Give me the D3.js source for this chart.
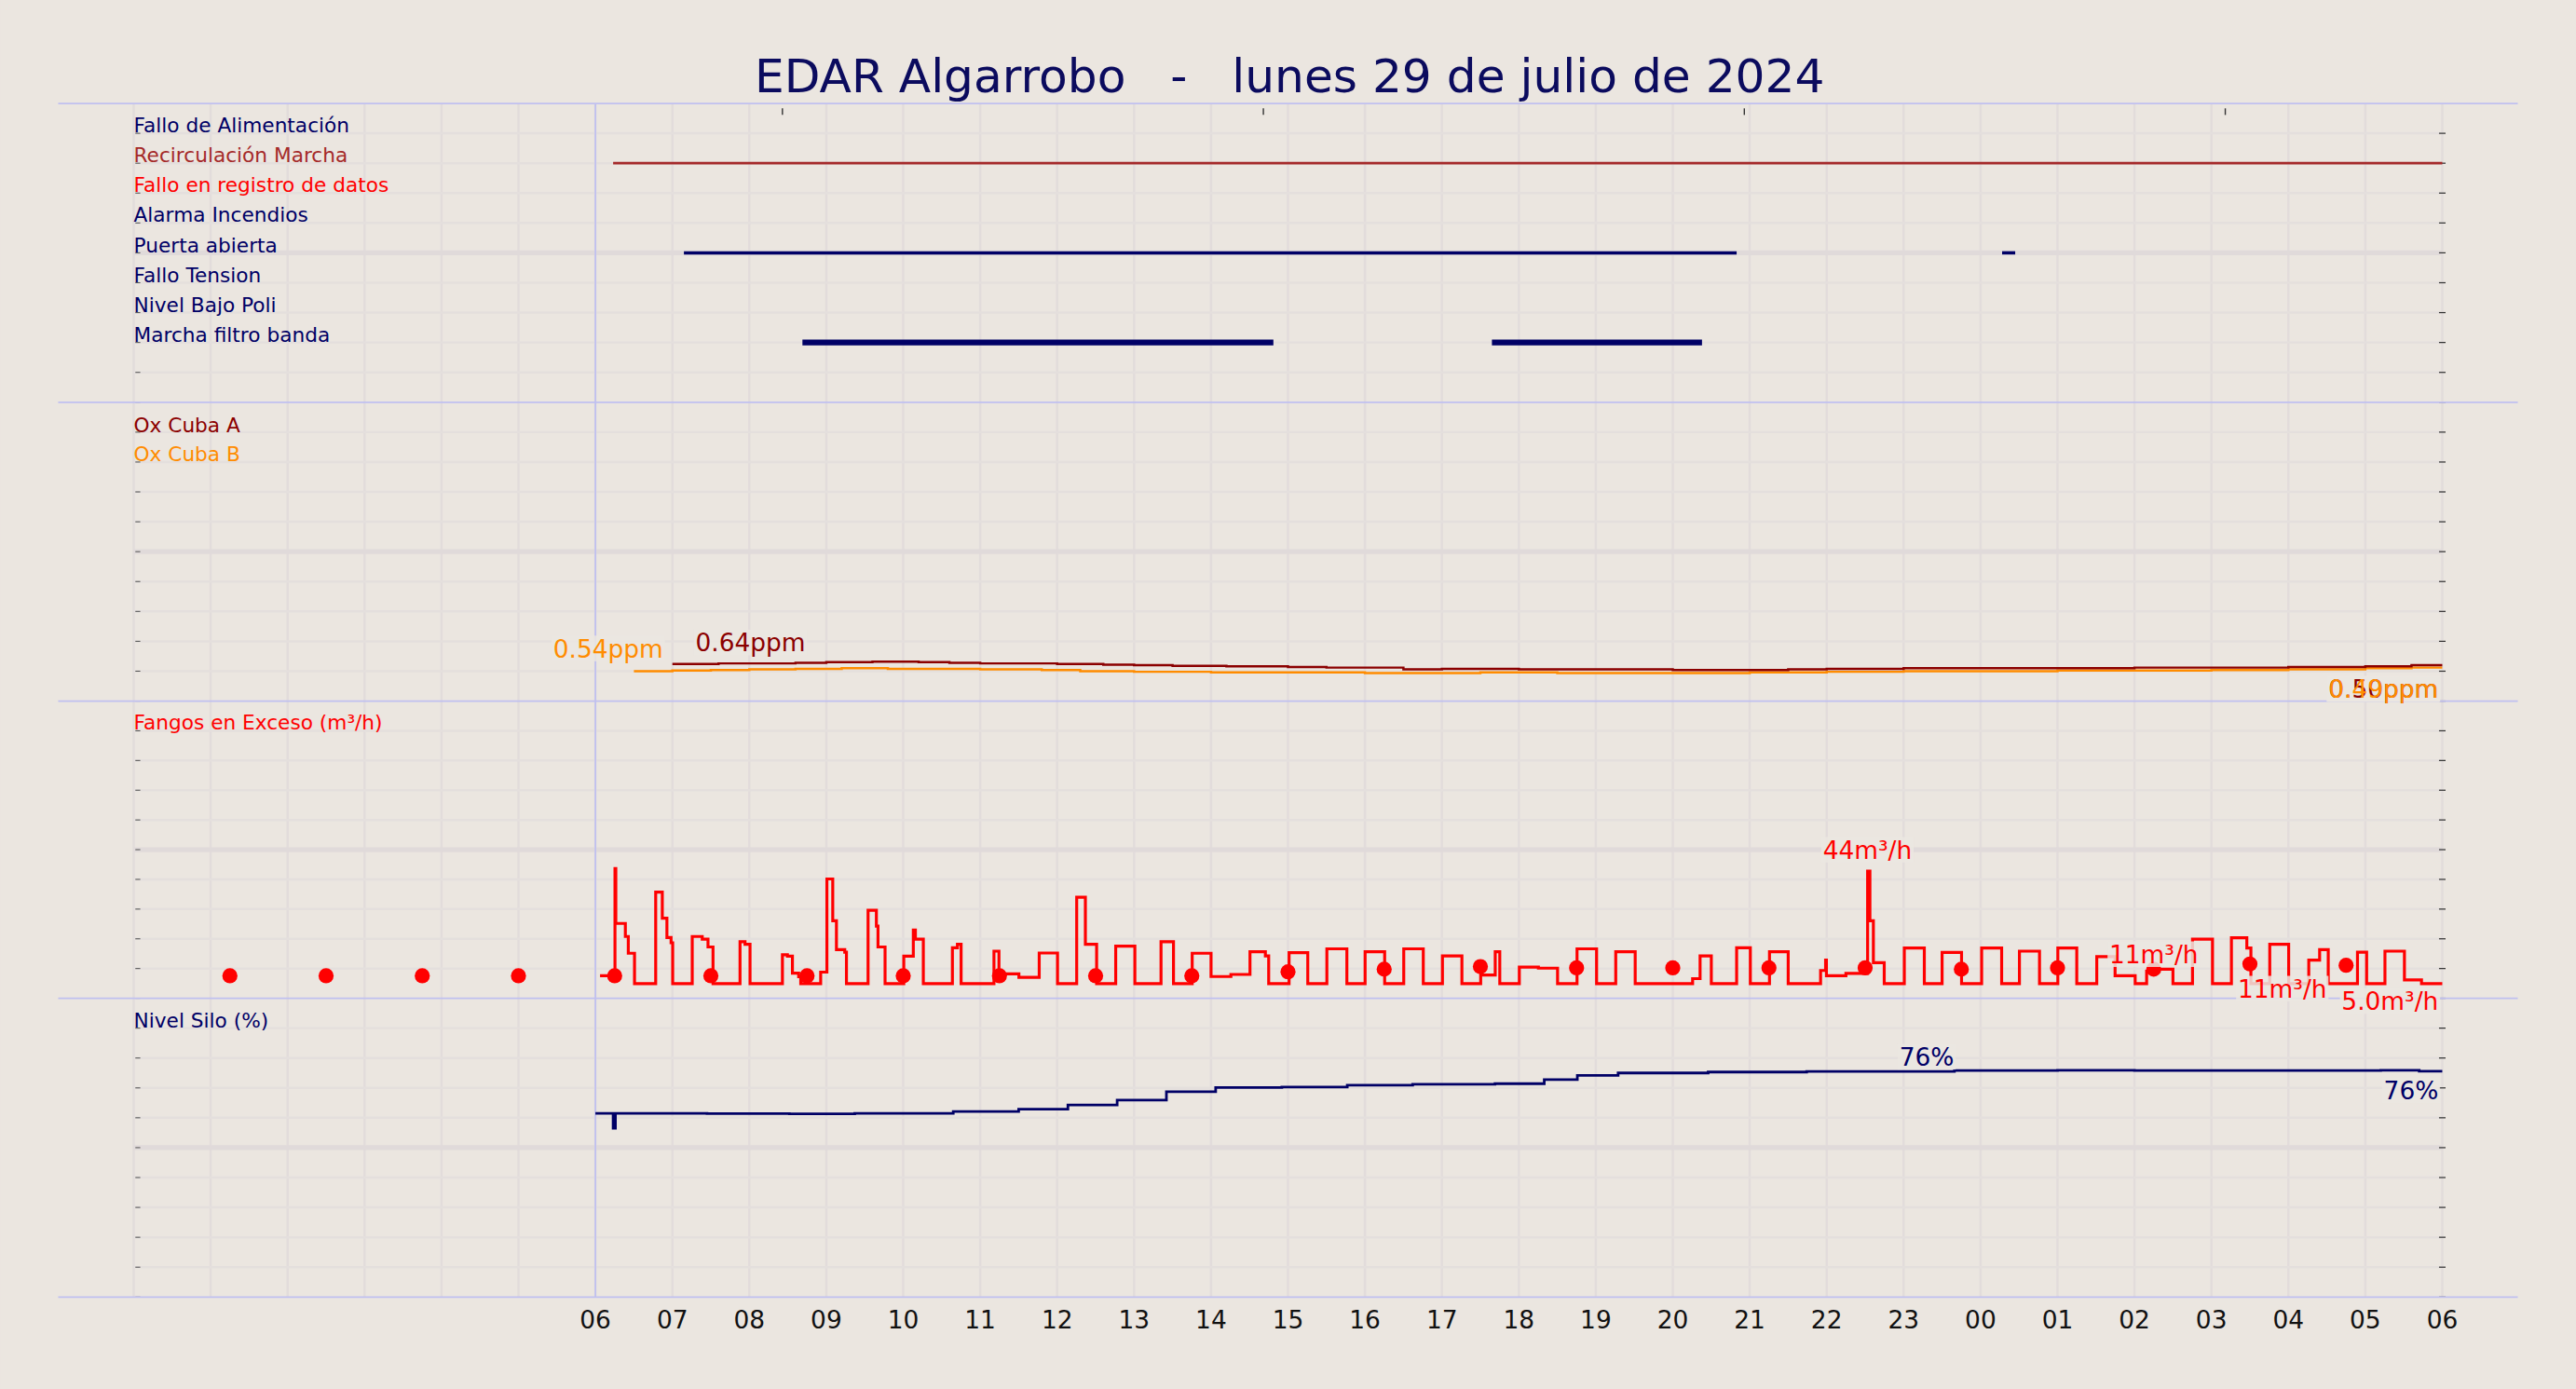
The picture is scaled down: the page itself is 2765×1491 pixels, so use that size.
<!DOCTYPE html>
<html>
<head>
<meta charset="utf-8">
<script src="https://cdn.jsdelivr.net/npm/d3@7"></script>
<style>
  body { margin: 0; background: #ebe6e0; }
  svg { display: block; font-family: "DejaVu Sans", sans-serif; }
</style>
</head>
<body>
<svg id="chart"></svg>
<script>
// ---- data (hours from 00:00 of the day; 24+ = next day) ----
const title = "EDAR Algarrobo   -   lunes 29 de julio de 2024";
const hourLabels = ["06","07","08","09","10","11","12","13","14","15","16","17","18","19","20","21","22","23","00","01","02","03","04","05","06"];
const topTicks = [8.43, 14.68, 20.93, 27.18];

const eventRows = [
  { name: "Fallo de Alimentación", color: "#000066" },
  { name: "Recirculación Marcha", color: "#a52a2a" },
  { name: "Fallo en registro de datos", color: "#ff0000" },
  { name: "Alarma Incendios", color: "#000066" },
  { name: "Puerta abierta", color: "#000066" },
  { name: "Fallo Tension", color: "#000066" },
  { name: "Nivel Bajo Poli", color: "#000066" },
  { name: "Marcha filtro banda", color: "#000066" }
];
const recirculacion = [[6.23, 30]];
const puertaAbierta = [[7.15, 20.83], [24.28, 24.45]];
const filtroBanda = [[8.69, 14.81], [17.65, 20.38]];

const oxA = [[7.0,0.62],[7.6,0.63],[8.4,0.63],[8.6,0.64],[9.0,0.65],[9.6,0.66],[10.2,0.65],[10.6,0.64],[11.0,0.63],[11.5,0.63],[12.0,0.62],[12.6,0.61],[13.0,0.60],[13.5,0.59],[14.2,0.58],[15.0,0.57],[15.5,0.56],[16.5,0.53],[17.0,0.54],[18.0,0.53],[19.0,0.53],[20.0,0.52],[21.5,0.53],[22.0,0.54],[23.0,0.55],[24.0,0.55],[25.0,0.55],[26.0,0.56],[27.0,0.56],[28.0,0.57],[29.0,0.58],[29.6,0.60],[30,0.60]];
const oxB = [[6.5,0.50],[7.0,0.51],[7.5,0.52],[8.0,0.53],[8.6,0.54],[9.2,0.55],[9.8,0.54],[10.5,0.54],[11.0,0.53],[11.8,0.52],[12.3,0.50],[13.0,0.49],[14.0,0.48],[15.0,0.48],[16.0,0.47],[17.5,0.48],[18.5,0.47],[20.0,0.47],[21.0,0.48],[22.0,0.49],[23.0,0.50],[24.0,0.50],[25.0,0.51],[26.0,0.51],[27.0,0.52],[28.0,0.53],[29.0,0.55],[29.6,0.56],[30,0.56]];

// step series: value holds from this hour until the next entry
const fangos = [[6.06,3],[6.254,44],[6.265,23],[6.389,18],[6.427,11.6],[6.508,0],[6.783,35],[6.869,25],[6.929,17.6],[6.983,15.6],[7.004,0],
  [7.258,18],[7.388,17],[7.463,14],[7.528,0],[7.879,16],[7.944,15],[8.009,0],[8.43,11],[8.495,10.5],[8.56,4],[8.641,2.6],[8.668,0],
  [8.927,4.4],[9.008,40],[9.084,24],[9.132,13],[9.24,12],[9.262,0],[9.543,28],[9.651,22],[9.672,14],[9.764,0],
  [10.007,10.5],[10.131,20.5],[10.158,17],[10.261,0],[10.639,13.7],[10.704,15],[10.752,0],[11.179,12.4],[11.244,3.7],[11.503,2.4],
  [11.767,11.7],[12.005,0],[12.254,33],[12.367,15],[12.513,0],[12.761,14.3],[13.01,0],[13.35,16],[13.512,0],[13.755,11.6],
  [14.0,2.7],[14.258,3.5],[14.506,12.2],[14.706,10.6],[14.749,0],[15.014,11.8],[15.257,0],[15.505,13.3],[15.765,0],
  [16.002,12.2],[16.256,0],[16.504,13.3],[16.758,0],[17.007,10.6],[17.26,0],[17.504,3.3],[17.693,12.2],[17.752,0],
  [18.006,6.3],[18.254,5.9],[18.503,0],[18.756,13.3],[19.01,0],[19.259,12.2],[19.512,0],[20.258,1.9],[20.355,10.6],[20.501,0],
  [20.83,13.7],[21.008,0],[21.257,12.2],[21.5,0],[21.921,5],[21.986,9],[21.997,3],[22.25,3.9],[22.532,43],[22.562,24],[22.607,8],
  [22.748,0],[23.009,13.6],[23.269,0],[23.5,11.9],[23.753,0],[24.014,13.6],[24.274,0],[24.505,12.4],[24.766,0],[25.004,13.6],
  [25.25,0],[25.51,10.3],[25.748,3],[26.009,0],[26.158,4.7],[26.27,5.5],[26.5,0],[26.754,17],[27.014,0],[27.26,17.5],[27.46,13.6],
  [27.513,0],[27.758,15],[28.004,0],[28.265,9],[28.406,13],[28.518,0],[28.898,12],[29.017,0],[29.255,12.4],[29.508,1.4],[29.73,0],[30,0]];
const fangosDots = [[1.25,3],[2.5,3],[3.75,3],[5.0,3],[6.25,3],[7.5,3],[8.75,3],[10.0,3],[11.25,3],[12.5,3],[13.75,3],[15.0,4.5],
  [16.25,5.5],[17.5,6.5],[18.75,6],[20.0,6],[21.25,6],[22.5,6],[23.75,5.5],[25.0,6],[26.25,5.5],[27.5,7.5],[28.75,7]];

const silo = [[6.0,61.5],[6.23,56.5],[6.26,61.5],[7.45,61.4],[8.52,61.3],[9.37,61.5],[10.65,62.1],[11.5,62.9],[12.14,64.3],[12.78,65.9],
  [13.42,68.7],[14.06,70.1],[14.92,70.3],[15.77,70.9],[16.62,71.2],[17.69,71.4],[18.33,72.8],[18.76,74.2],[19.29,75.0],[20.46,75.3],
  [21.74,75.5],[23.66,75.8],[25.0,75.9],[26.0,75.8],[28.0,75.8],[29.2,75.9],[29.7,75.6],[30,75.6]];

const oxLabels = [
  { t: "0.54ppm", h: 5.45, v: 0.54, color: "#ff8c00", anchor: "start", dy: -7 },
  { t: "0.64ppm", h: 7.3, v: 0.64, color: "#8b0000", anchor: "start", dy: -7 },
  { t: "0.50ppm", h: 29.95, v: 0.50, color: "#8b0000", anchor: "end", dy: 16 },
  { t: "0.49ppm", h: 29.95, v: 0.49, color: "#ff8c00", anchor: "end", dy: 16 }
];
const fangosLabels = [
  { t: "44m³/h", h: 22.53, v: 44, anchor: "middle", dy: -6 },
  { t: "11m³/h", h: 26.25, v: 11, anchor: "middle", dy: 5 },
  { t: "11m³/h", h: 28.5, v: 11, anchor: "end", dy: 26 },
  { t: "5.0m³/h", h: 29.95, v: 5, anchor: "end", dy: 24 }
];
const siloLabels = [
  { t: "76%", h: 23.3, v: 75.8, anchor: "middle", dy: -3 },
  { t: "76%", h: 29.95, v: 75.6, anchor: "end", dy: 17 }
];

// ---- layout ----
const W = 1568, H = 846;
const bg = "#ebe6e0";
const panels = [[63, 245], [245, 427], [427, 608], [608, 790]];

const svg = d3.select("#chart")
  .attr("width", 2765).attr("height", 1491)
  .attr("viewBox", `0 0 ${W} ${H}`);
svg.append("rect").attr("width", W).attr("height", H).attr("fill", bg);

const x = d3.scaleLinear().domain([0, 30]).range([81, 1487]);

// grid
const grid = svg.append("g");
grid.selectAll("line.v").data(d3.range(0, 31)).join("line")
  .attr("x1", d => x(d)).attr("x2", d => x(d))
  .attr("y1", 63).attr("y2", 790)
  .attr("stroke", "#e2dcdb").attr("stroke-width", 1.4);
panels.forEach(([y0, y1]) => {
  const ys = d3.scaleLinear().domain([0, 10]).range([y0, y1]);
  grid.append("g").selectAll("line").data(d3.range(1, 10)).join("line")
    .attr("x1", x(0)).attr("x2", x(30))
    .attr("y1", d => ys(d)).attr("y2", d => ys(d))
    .attr("stroke", d => d === 5 ? "#e0dada" : "#e4dfdd")
    .attr("stroke-width", d => d === 5 ? 3 : 1.4);
  grid.append("g").selectAll("line").data(d3.range(1, 11)).join("line")
    .attr("x1", x(30) - 2).attr("x2", x(30) + 2)
    .attr("y1", d => ys(d)).attr("y2", d => ys(d))
    .attr("stroke", "#333").attr("stroke-width", 0.7);
  grid.append("g").selectAll("line").data(d3.range(1, 11)).join("line")
    .attr("x1", x(0) + 1).attr("x2", x(0) + 4)
    .attr("y1", d => ys(d)).attr("y2", d => ys(d))
    .attr("stroke", "#555").attr("stroke-width", 0.6);
});
// panel separators and day start
svg.append("g").selectAll("line").data(panels.map(p => p[0]).concat([790])).join("line")
  .attr("x1", 35).attr("x2", 1533).attr("y1", d => d).attr("y2", d => d)
  .attr("stroke", "#c0c0f0").attr("stroke-width", 1);
svg.append("line").attr("x1", x(6)).attr("x2", x(6)).attr("y1", 63).attr("y2", 790)
  .attr("stroke", "#c0c0f0").attr("stroke-width", 1);
svg.append("g").selectAll("line").data(topTicks).join("line")
  .attr("x1", d => x(d)).attr("x2", d => x(d)).attr("y1", 66).attr("y2", 70)
  .attr("stroke", "#333").attr("stroke-width", 0.8);

// title
svg.append("text").attr("x", 785).attr("y", 56).attr("text-anchor", "middle")
  .attr("font-size", 28.5).attr("fill", "#0b0b5e").attr("xml:space", "preserve")
  .style("white-space", "pre").text(title);

// x axis labels
svg.append("g").selectAll("text").data(hourLabels).join("text")
  .attr("x", (d, i) => x(6 + i)).attr("y", 809).attr("text-anchor", "middle")
  .attr("font-size", 15).attr("fill", "#111").text(d => d);

// ---- panel 1: events ----
const fs = 12.3;
const yEv = d3.scaleLinear().domain([0, 10]).range([63, 245]);
svg.append("g").selectAll("text").data(eventRows).join("text")
  .attr("x", 81).attr("y", (d, i) => yEv(i + 1) - 0.5)
  .attr("font-size", fs).attr("fill", d => d.color).text(d => d.name);
function bars(data, row, color, width) {
  svg.append("g").selectAll("line").data(data).join("line")
    .attr("x1", d => x(d[0])).attr("x2", d => x(d[1]))
    .attr("y1", yEv(row)).attr("y2", yEv(row))
    .attr("stroke", color).attr("stroke-width", width);
}
bars(recirculacion, 2, "#a52a2a", 1.5);
bars(puertaAbierta, 5, "#000066", 2);
bars(filtroBanda, 8, "#000066", 3.5);

// ---- panel 2: oxygen ----
const yOx = d3.scaleLinear().domain([0, 5]).range([427, 245]);
const oxLine = d3.line().x(d => x(d[0])).y(d => yOx(d[1])).curve(d3.curveStepAfter);
svg.append("text").attr("x", 81).attr("y", 263).attr("font-size", fs).attr("fill", "#8b0000").text("Ox Cuba A");
svg.append("text").attr("x", 81).attr("y", 281).attr("font-size", fs).attr("fill", "#ff8c00").text("Ox Cuba B");
svg.append("path").datum(oxB).attr("d", oxLine).attr("fill", "none").attr("stroke", "#ff8c00").attr("stroke-width", 1.4);
svg.append("path").datum(oxA).attr("d", oxLine).attr("fill", "none").attr("stroke", "#8b0000").attr("stroke-width", 1.4);

// ---- panel 3: fangos ----
const yF = d3.scaleLinear().domain([-5.6, 108]).range([608, 427]);
svg.append("text").attr("x", 81).attr("y", 444).attr("font-size", fs).attr("fill", "#ff0000").text("Fangos en Exceso (m³/h)");
svg.append("path").datum(fangos)
  .attr("d", d3.line().x(d => x(d[0])).y(d => yF(d[1])).curve(d3.curveStepAfter))
  .attr("fill", "none").attr("stroke", "#ff0000").attr("stroke-width", 1.8);
svg.append("g").selectAll("circle").data(fangosDots).join("circle")
  .attr("cx", d => x(d[0])).attr("cy", d => yF(d[1])).attr("r", 4.6).attr("fill", "#ff0000");

// ---- panel 4: silo ----
const yS = d3.scaleLinear().domain([0, 100]).range([790, 608]);
svg.append("text").attr("x", 81).attr("y", 626).attr("font-size", fs).attr("fill", "#000066").text("Nivel Silo (%)");
svg.append("path").datum(silo)
  .attr("d", d3.line().x(d => x(d[0])).y(d => yS(d[1])).curve(d3.curveStepAfter))
  .attr("fill", "none").attr("stroke", "#000066").attr("stroke-width", 1.6);

// ---- value labels with background boxes (boxes under all texts) ----
function labels(data, yScale, color) {
  const boxes = svg.append("g");
  const texts = svg.append("g");
  data.forEach(d => {
    const t = texts.append("text")
      .attr("x", x(d.h)).attr("y", yScale(d.v) + d.dy)
      .attr("text-anchor", d.anchor).attr("font-size", 15)
      .attr("fill", d.color || color).text(d.t);
    const b = t.node().getBBox();
    boxes.append("rect")
      .attr("x", b.x - 1).attr("y", b.y + 1).attr("width", b.width + 2).attr("height", b.height - 2)
      .attr("fill", bg).attr("opacity", 0.85);
  });
}
labels(oxLabels, yOx);
labels(fangosLabels, yF, "#ff0000");
labels(siloLabels, yS, "#000066");
</script>
</body>
</html>
